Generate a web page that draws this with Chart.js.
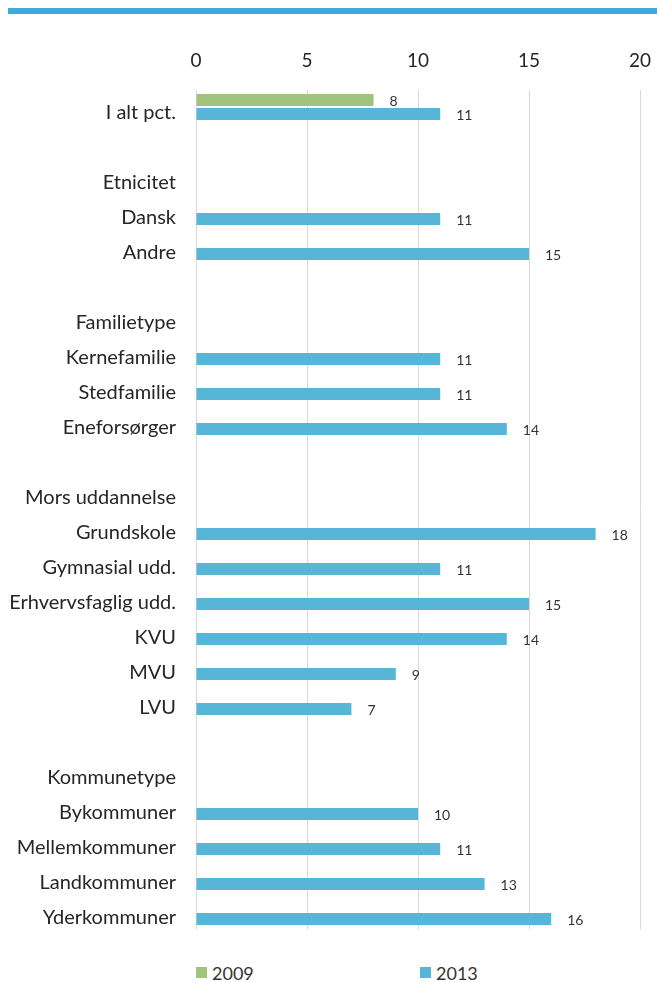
<!DOCTYPE html>
<html>
<head>
<meta charset="utf-8">
<script src="https://cdn.jsdelivr.net/npm/chart.js@4"></script>
<style>
html, body { margin: 0; width: 657px; height: 982px; overflow: hidden; background: #fff; font-family: Lato, sans-serif; }
#topline { position: absolute; left: 8px; right: 0; top: 8px; height: 6px; background: #41A9D8; }
#wrap { position: absolute; left: 0; top: 0; width: 657px; height: 940px; }
#legend { position: absolute; top: 963px; left: 0; width: 657px; height: 19px; font-size: 18px; color: #333; }
.item { position: absolute; top: 0; height: 19px; display: flex; align-items: center; }
.box { width: 11px; height: 11px; margin-right: 5px; }
</style>
</head>
<body>
<div id="topline"></div>
<div id="wrap"><canvas id="chart"></canvas></div>
<div id="legend"></div>
<script>
const categories = ['I alt pct.', '', 'Etnicitet', 'Dansk', 'Andre', '', 'Familietype', 'Kernefamilie',
	'Stedfamilie', 'Eneforsørger', '', 'Mors uddannelse', 'Grundskole', 'Gymnasial udd.',
	'Erhvervsfaglig udd.', 'KVU', 'MVU', 'LVU', '', 'Kommunetype', 'Bykommuner', 'Mellemkommuner',
	'Landkommuner', 'Yderkommuner'];
const seriesNames = ['2009', '2013'];
const values2009 = [8, null, null, null, null, null, null, null, null, null, null, null,
	null, null, null, null, null, null, null, null, null, null, null, null];
const values2013 = [11, null, null, 11, 15, null, null, 11, 11, 14, null, null,
	18, 11, 15, 14, 9, 7, null, null, 10, 11, 13, 16];
const xTicks = [0, 5, 10, 15, 20];
const colors = ['#A0C47D', '#57B6D8'];

// value labels to the right of each bar
const valueLabels = {
	id: 'valueLabels',
	afterDatasetsDraw(chart) {
		const ctx = chart.ctx;
		ctx.save();
		ctx.font = '14px Lato';
		ctx.fillStyle = '#333';
		ctx.textBaseline = 'middle';
		chart.data.datasets.forEach((ds, i) => {
			chart.getDatasetMeta(i).data.forEach((bar, j) => {
				const v = ds.data[j];
				if (v == null) return;
				ctx.fillText(String(v), bar.x + 16, bar.y + 1);
			});
		});
		ctx.restore();
	}
};

const chart = new Chart(document.getElementById('chart'), {
	type: 'bar',
	data: {
		labels: categories,
		datasets: [
			{ label: seriesNames[0], data: values2009, backgroundColor: colors[0] },
			{ label: seriesNames[1], data: values2013, backgroundColor: colors[1] }
		]
	},
	options: {
		indexAxis: 'y',
		responsive: true,
		maintainAspectRatio: false,
		animation: false,
		categoryPercentage: 0.8,
		barPercentage: 0.857,
		layout: { padding: { top: 50, right: 17, bottom: 10.5, left: 0 } },
		plugins: {
			legend: { display: false },
			tooltip: { enabled: false }
		},
		scales: {
			x: {
				position: 'top',
				min: xTicks[0],
				max: xTicks[xTicks.length - 1],
				afterBuildTicks: s => { s.ticks = xTicks.map(v => ({ value: v })); },
				afterFit: s => { s.height = 39.5; s.paddingLeft = 0; s.paddingRight = 0; },
				grid: { color: '#D9D9D9', drawTicks: false },
				border: { display: false },
				ticks: { padding: 17, color: '#262626', font: { family: 'Lato', size: 19 } }
			},
			y: {
				afterFit: s => { s.width = 196; s.paddingTop = 0; s.paddingBottom = 0; },
				grid: { display: false, drawTicks: false },
				border: { display: false },
				ticks: { padding: 20, labelOffset: 6, autoSkip: false, color: '#262626', font: { family: 'Lato', size: 20 } }
			}
		}
	},
	plugins: [valueLabels]
});

// legend below the chart
const legend = document.getElementById('legend');
const legendX = [196, 420];
seriesNames.forEach((name, i) => {
	const item = document.createElement('div');
	item.className = 'item';
	item.style.left = legendX[i] + 'px';
	item.innerHTML = '<span class="box" style="background:' + colors[i] + '"></span><span>' + name + '</span>';
	legend.appendChild(item);
});
</script>
</body>
</html>
